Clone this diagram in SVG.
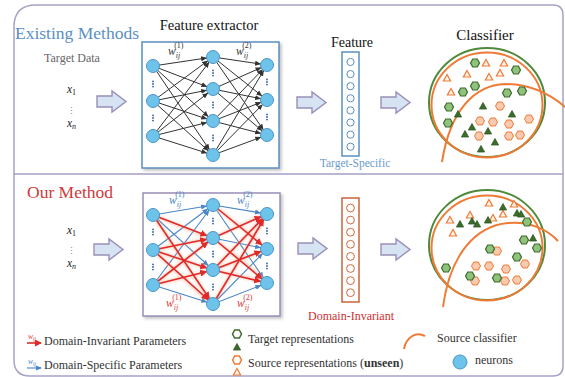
<svg xmlns="http://www.w3.org/2000/svg" width="565" height="377" viewBox="0 0 565 377">
<style>
text{font-family:"Liberation Serif","Times New Roman",serif;}
.frame{fill:#fff;stroke:#a8a2c6;stroke-width:1.5;}
.blk{fill:#d5e3f3;stroke:#9a8fb8;stroke-width:1.4;}
.neu{fill:#6ec3ea;stroke:#4a97c9;stroke-width:1;}
.ed{stroke:#333;stroke-width:1;marker-end:url(#mD);}
.eb{stroke:#4a86c5;stroke-width:1.1;marker-end:url(#mB);}
.er{stroke:#e02a2a;stroke-width:1.6;marker-end:url(#mR);}
.glow{stroke:#f49a72;stroke-width:4;opacity:.35;filter:url(#blur);}
.dot{fill:#2f5f9e;}
.hg{fill:#8fc27a;stroke:#3d6b2c;stroke-width:1.2;}
.ho{fill:#f9c9b0;stroke:#ef7a35;stroke-width:1;}
.tg{fill:#3d6b2c;stroke:#2f5a22;stroke-width:.8;}
.to{fill:#fff3ea;stroke:#ef7a35;stroke-width:1.2;}
.fc{fill:#fff;stroke-width:1;}
.lg{font-size:12px;fill:#333;}
.w{font-style:italic;font-size:11.5px;}
.sb{font-size:8px;}
.sp{font-size:8px;font-style:normal;}
</style>
<defs>
<filter id="blur" x="-20%" y="-20%" width="140%" height="140%"><feGaussianBlur stdDeviation="1.2"/></filter>
<filter id="sh" x="-10%" y="-10%" width="125%" height="125%"><feDropShadow dx="2" dy="2" stdDeviation="1.5" flood-color="#888" flood-opacity=".5"/></filter>
<marker id="mD" markerUnits="userSpaceOnUse" viewBox="0 0 12 6" markerWidth="12" markerHeight="6" refX="12" refY="3" orient="auto"><path d="M0,0.5 L6,3 L0,5.5 Z" fill="#333"/></marker>
<marker id="mB" markerUnits="userSpaceOnUse" viewBox="0 0 12 6" markerWidth="12" markerHeight="6" refX="12" refY="3" orient="auto"><path d="M0,0.5 L6,3 L0,5.5 Z" fill="#4a86c5"/></marker>
<marker id="mR" markerUnits="userSpaceOnUse" viewBox="0 0 13 7" markerWidth="13" markerHeight="7" refX="13" refY="3.5" orient="auto"><path d="M0,0 L7,3.5 L0,7 Z" fill="#e02a2a"/></marker>
<marker id="mRs" markerUnits="userSpaceOnUse" viewBox="0 0 7 7" markerWidth="7" markerHeight="7" refX="6" refY="3.5" orient="auto"><path d="M0,0 L7,3.5 L0,7 Z" fill="#e02a2a"/></marker>
<marker id="mBs" markerUnits="userSpaceOnUse" viewBox="0 0 6 6" markerWidth="6" markerHeight="6" refX="5" refY="3" orient="auto"><path d="M0,0.5 L6,3 L0,5.5 Z" fill="#4a86c5"/></marker>
<path id="blkA" d="M0,5 H15 V0 L29,10.5 L15,21 V16 H0 Z"/>
<path id="hx" d="M-4.5,0 L-2.3,-4 L2.3,-4 L4.5,0 L2.3,4 L-2.3,4 Z"/>
<path id="tr" d="M0,-3.5 L3.6,3 L-3.6,3 Z"/>
<g id="vd"><circle cx="0" cy="-2.6" r="0.9"/><circle cx="0" cy="0" r="0.9"/><circle cx="0" cy="2.6" r="0.9"/></g>
</defs>

<rect width="565" height="377" fill="#fff"/>
<path class="frame" d="M14,27 Q14,5 36,5 L553,5 Q563,5 563,15 L563,366 Q563,376 553,376 L30,376 Q14,376 14,360 Z"/>
<line x1="14" y1="174" x2="563" y2="174" stroke="#a59fc3" stroke-width="1.5"/>

<!-- Top section -->
<g id="existing-title"><text x="15" y="39" font-size="17.5" fill="#5a8fc4">Existing Methods</text></g>
<g id="target-data">
<text x="72" y="62" font-size="12" fill="#666" text-anchor="middle">Target Data</text>
<text x="67" y="93" font-size="11.5" font-style="italic" fill="#222">x<tspan font-size="8" dy="2" font-style="normal">1</tspan></text>
<text x="71" y="114" font-size="9" fill="#888" font-family="DejaVu Sans,sans-serif" text-anchor="middle">⋮</text>
<text x="67" y="127" font-size="11.5" font-style="italic" fill="#222">x<tspan font-size="8" dy="2">n</tspan></text>
</g>
<g id="feature-extractor-top">
<text x="209" y="30" font-size="14.5" fill="#111" text-anchor="middle">Feature extractor</text>
<rect x="142" y="42" width="137" height="126" fill="#fff" stroke="#5b8fc0" stroke-width="1.5" filter="url(#sh)"/>
</g>
<g id="connectors-top">
<line class="ed" x1="153" y1="66" x2="213" y2="57"/><line class="ed" x1="153" y1="66" x2="213" y2="89"/><line class="ed" x1="153" y1="66" x2="213" y2="121"/><line class="ed" x1="153" y1="66" x2="213" y2="155"/>
<line class="ed" x1="153" y1="101" x2="213" y2="57"/><line class="ed" x1="153" y1="101" x2="213" y2="89"/><line class="ed" x1="153" y1="101" x2="213" y2="121"/><line class="ed" x1="153" y1="101" x2="213" y2="155"/>
<line class="ed" x1="153" y1="136" x2="213" y2="57"/><line class="ed" x1="153" y1="136" x2="213" y2="89"/><line class="ed" x1="153" y1="136" x2="213" y2="121"/><line class="ed" x1="153" y1="136" x2="213" y2="155"/>
<line class="ed" x1="213" y1="57" x2="267" y2="65"/><line class="ed" x1="213" y1="57" x2="267" y2="100"/><line class="ed" x1="213" y1="57" x2="267" y2="135"/>
<line class="ed" x1="213" y1="89" x2="267" y2="65"/><line class="ed" x1="213" y1="89" x2="267" y2="100"/><line class="ed" x1="213" y1="89" x2="267" y2="135"/>
<line class="ed" x1="213" y1="121" x2="267" y2="65"/><line class="ed" x1="213" y1="121" x2="267" y2="100"/><line class="ed" x1="213" y1="121" x2="267" y2="135"/>
<line class="ed" x1="213" y1="155" x2="267" y2="65"/><line class="ed" x1="213" y1="155" x2="267" y2="100"/><line class="ed" x1="213" y1="155" x2="267" y2="135"/>
</g>
<g id="neurons-top">
<circle class="neu" cx="153" cy="66" r="6.5"/><circle class="neu" cx="153" cy="101" r="6.5"/><circle class="neu" cx="153" cy="136" r="6.5"/>
<circle class="neu" cx="213" cy="57" r="6.5"/><circle class="neu" cx="213" cy="89" r="6.5"/><circle class="neu" cx="213" cy="121" r="6.5"/><circle class="neu" cx="213" cy="155" r="6.5"/>
<circle class="neu" cx="267" cy="65" r="6.5"/><circle class="neu" cx="267" cy="100" r="6.5"/><circle class="neu" cx="267" cy="135" r="6.5"/>
<g class="dot">
<use href="#vd" x="153" y="84"/><use href="#vd" x="153" y="118"/>
<use href="#vd" x="213" y="73"/><use href="#vd" x="213" y="105"/><use href="#vd" x="213" y="138"/>
<use href="#vd" x="267" y="82"/><use href="#vd" x="267" y="117"/>
</g>
<text class="w" x="168" y="55" fill="#333">w<tspan class="sb" dy="2.5">ij</tspan><tspan class="sp" dx="-6" dy="-10">(1)</tspan></text>
<text class="w" x="236" y="55" fill="#333">w<tspan class="sb" dy="2.5">ij</tspan><tspan class="sp" dx="-6" dy="-10">(2)</tspan></text>
</g>
<g id="arrows-top">
<use href="#blkA" class="blk" x="97" y="91"/>
<use href="#blkA" class="blk" x="297" y="92"/>
<use href="#blkA" class="blk" x="381" y="92"/>
</g>
<g id="feature-top">
<text x="352" y="47" font-size="14" fill="#111" text-anchor="middle">Feature</text>
<rect x="342" y="52" width="17" height="104" fill="#fff" stroke="#5b8fc0" stroke-width="1.5"/>
<g class="fc" stroke="#5b8fc0">
<circle cx="350.5" cy="62" r="3.6"/><circle cx="350.5" cy="74.1" r="3.6"/><circle cx="350.5" cy="86.2" r="3.6"/><circle cx="350.5" cy="98.3" r="3.6"/><circle cx="350.5" cy="110.4" r="3.6"/><circle cx="350.5" cy="122.5" r="3.6"/><circle cx="350.5" cy="134.6" r="3.6"/><circle cx="350.5" cy="146.7" r="3.6"/>
</g>
<text x="355" y="167" font-size="11.5" fill="#6a9ccc" text-anchor="middle">Target-Specific</text>
</g>
<g id="classifier-top">
<text x="485" y="40" font-size="15" fill="#111" text-anchor="middle">Classifier</text>
<ellipse cx="487" cy="102.5" rx="58" ry="54.5" fill="none" stroke="#4f8a3a" stroke-width="2"/>
<ellipse cx="487" cy="105" rx="55.5" ry="52.5" fill="none" stroke="#ef7a35" stroke-width="2"/>
<path d="M442,162 C450,110 475,85 505,84 C530,84 550,94 565,107" fill="none" stroke="#ef7a35" stroke-width="2"/>
<g class="hg"><use href="#hx" x="475" y="63"/><use href="#hx" x="516" y="70"/><use href="#hx" x="475" y="86"/><use href="#hx" x="463" y="92"/><use href="#hx" x="507" y="93"/><use href="#hx" x="522" y="91"/><use href="#hx" x="449" y="107"/><use href="#hx" x="448" y="123"/></g>
<g class="to"><use href="#tr" x="486" y="63"/><use href="#tr" x="504" y="63"/><use href="#tr" x="467" y="74"/><use href="#tr" x="489" y="77"/><use href="#tr" x="500" y="73"/><use href="#tr" x="447" y="78"/><use href="#tr" x="451" y="92"/></g>
<g class="tg"><use href="#tr" x="458" y="114"/><use href="#tr" x="483" y="106"/><use href="#tr" x="512" y="114"/><use href="#tr" x="472" y="127"/><use href="#tr" x="465" y="134"/><use href="#tr" x="488" y="131"/><use href="#tr" x="495" y="142"/><use href="#tr" x="481" y="149"/></g>
<g class="ho"><use href="#hx" x="500" y="106"/><use href="#hx" x="480" y="121"/><use href="#hx" x="493" y="122"/><use href="#hx" x="509" y="124"/><use href="#hx" x="529" y="119"/><use href="#hx" x="479" y="136"/><use href="#hx" x="509" y="136"/><use href="#hx" x="520" y="135"/></g>
</g>

<!-- Bottom section -->
<g id="our-title"><text x="27" y="198" font-size="17.5" fill="#d03a3a">Our Method</text></g>
<g id="input-bottom">
<text x="67" y="234" font-size="11.5" font-style="italic" fill="#222">x<tspan font-size="8" dy="2" font-style="normal">1</tspan></text>
<text x="71" y="254" font-size="9" fill="#888" font-family="DejaVu Sans,sans-serif" text-anchor="middle">⋮</text>
<text x="67" y="267" font-size="11.5" font-style="italic" fill="#222">x<tspan font-size="8" dy="2">n</tspan></text>
</g>
<g id="feature-extractor-bottom">
<rect x="143" y="193" width="137" height="123" fill="#fff" stroke="#9a8fb8" stroke-width="1.5" filter="url(#sh)"/>
</g>
<g id="connectors-bottom">
<g fill="none">
<line class="eb" x1="153" y1="215" x2="213" y2="205"/><line class="eb" x1="153" y1="215" x2="213" y2="270"/><line class="eb" x1="153" y1="250" x2="213" y2="205"/><line class="eb" x1="153" y1="285" x2="213" y2="205"/><line class="eb" x1="153" y1="285" x2="213" y2="304"/>
<line class="eb" x1="213" y1="205" x2="267" y2="214"/><line class="eb" x1="213" y1="205" x2="267" y2="283"/><line class="eb" x1="213" y1="238" x2="267" y2="249"/><line class="eb" x1="213" y1="304" x2="267" y2="249"/><line class="eb" x1="213" y1="304" x2="267" y2="283"/>
</g>
<g class="glow">
<line x1="153" y1="215" x2="207" y2="237"/><line x1="153" y1="215" x2="209" y2="299"/><line x1="153" y1="250" x2="207" y2="239"/><line x1="153" y1="250" x2="207" y2="268"/><line x1="153" y1="250" x2="208" y2="301"/><line x1="153" y1="285" x2="208" y2="242"/><line x1="153" y1="285" x2="207" y2="272"/>
<line x1="213" y1="205" x2="263" y2="245"/><line x1="213" y1="238" x2="261" y2="216"/><line x1="213" y1="238" x2="263" y2="278"/><line x1="213" y1="270" x2="263" y2="218"/><line x1="213" y1="270" x2="261" y2="252"/><line x1="213" y1="270" x2="261" y2="281"/><line x1="213" y1="304" x2="264" y2="219"/>
</g>
<g>
<line class="er" x1="153" y1="215" x2="213" y2="238"/><line class="er" x1="153" y1="215" x2="213" y2="304"/><line class="er" x1="153" y1="250" x2="213" y2="238"/><line class="er" x1="153" y1="250" x2="213" y2="270"/><line class="er" x1="153" y1="250" x2="213" y2="304"/><line class="er" x1="153" y1="285" x2="213" y2="238"/><line class="er" x1="153" y1="285" x2="213" y2="270"/>
<line class="er" x1="213" y1="205" x2="267" y2="249"/><line class="er" x1="213" y1="238" x2="267" y2="214"/><line class="er" x1="213" y1="238" x2="267" y2="283"/><line class="er" x1="213" y1="270" x2="267" y2="214"/><line class="er" x1="213" y1="270" x2="267" y2="249"/><line class="er" x1="213" y1="270" x2="267" y2="283"/><line class="er" x1="213" y1="304" x2="267" y2="214"/>
</g>
</g>
<g id="neurons-bottom">
<circle class="neu" cx="153" cy="215" r="6.5"/><circle class="neu" cx="153" cy="250" r="6.5"/><circle class="neu" cx="153" cy="285" r="6.5"/>
<circle class="neu" cx="213" cy="205" r="6.5"/><circle class="neu" cx="213" cy="238" r="6.5"/><circle class="neu" cx="213" cy="270" r="6.5"/><circle class="neu" cx="213" cy="304" r="6.5"/>
<circle class="neu" cx="267" cy="214" r="6.5"/><circle class="neu" cx="267" cy="249" r="6.5"/><circle class="neu" cx="267" cy="283" r="6.5"/>
<g class="dot">
<use href="#vd" x="153" y="232"/><use href="#vd" x="153" y="267"/>
<use href="#vd" x="213" y="221"/><use href="#vd" x="213" y="254"/><use href="#vd" x="213" y="287"/>
<use href="#vd" x="267" y="231"/><use href="#vd" x="267" y="266"/>
</g>
<text class="w" x="169" y="204" fill="#4a86c5">w<tspan class="sb" dy="2.5">ij</tspan><tspan class="sp" dx="-6" dy="-10">(1)</tspan></text>
<text class="w" x="237" y="204" fill="#4a86c5">w<tspan class="sb" dy="2.5">ij</tspan><tspan class="sp" dx="-6" dy="-10">(2)</tspan></text>
<text class="w" x="166" y="307" fill="#e03a3a">w<tspan class="sb" dy="2.5">ij</tspan><tspan class="sp" dx="-6" dy="-10">(1)</tspan></text>
<text class="w" x="237" y="307" fill="#e03a3a">w<tspan class="sb" dy="2.5">ij</tspan><tspan class="sp" dx="-6" dy="-10">(2)</tspan></text>
</g>
<g id="arrows-bottom">
<use href="#blkA" class="blk" x="94" y="239"/>
<use href="#blkA" class="blk" x="298" y="238"/>
<use href="#blkA" class="blk" x="381" y="239"/>
</g>
<g id="feature-bottom">
<rect x="342" y="198" width="17" height="104" fill="#fff" stroke="#c8643c" stroke-width="1.5"/>
<g class="fc" stroke="#d0683c">
<circle cx="350.5" cy="208" r="3.9"/><circle cx="350.5" cy="220.1" r="3.9"/><circle cx="350.5" cy="232.2" r="3.9"/><circle cx="350.5" cy="244.3" r="3.9"/><circle cx="350.5" cy="256.4" r="3.9"/><circle cx="350.5" cy="268.5" r="3.9"/><circle cx="350.5" cy="280.6" r="3.9"/><circle cx="350.5" cy="292.7" r="3.9"/>
</g>
<text x="351" y="320" font-size="12" fill="#d03030" text-anchor="middle">Domain-Invariant</text>
</g>
<g id="classifier-bottom">
<ellipse cx="487" cy="245" rx="58" ry="55" fill="none" stroke="#4f8a3a" stroke-width="2"/>
<ellipse cx="487" cy="248" rx="55.5" ry="52.5" fill="none" stroke="#ef7a35" stroke-width="2"/>
<path d="M443,307 C450,255 475,226 508,223 C530,221 548,230 558,241" fill="none" stroke="#ef7a35" stroke-width="2"/>
<g class="to"><use href="#tr" x="489" y="203"/><use href="#tr" x="514" y="204"/><use href="#tr" x="470" y="215"/><use href="#tr" x="503" y="214"/><use href="#tr" x="493" y="218"/><use href="#tr" x="450" y="220"/><use href="#tr" x="453" y="233"/></g>
<g class="tg"><use href="#tr" x="503" y="207"/><use href="#tr" x="460" y="224"/><use href="#tr" x="472" y="221"/><use href="#tr" x="477" y="224"/><use href="#tr" x="488" y="220"/><use href="#tr" x="517" y="213"/><use href="#tr" x="521" y="214"/><use href="#tr" x="533" y="238"/></g>
<g class="ho"><use href="#hx" x="497" y="251"/><use href="#hx" x="525" y="264"/><use href="#hx" x="476" y="266"/><use href="#hx" x="489" y="266"/><use href="#hx" x="506" y="269"/><use href="#hx" x="475" y="281"/><use href="#hx" x="505" y="281"/><use href="#hx" x="517" y="280"/></g>
<g class="hg"><use href="#hx" x="527" y="222"/><use href="#hx" x="524" y="240"/><use href="#hx" x="537" y="248"/><use href="#hx" x="490" y="249"/><use href="#hx" x="517" y="257"/><use href="#hx" x="446" y="268"/><use href="#hx" x="470" y="276"/><use href="#hx" x="497" y="278"/></g>
</g>

<!-- Legend -->
<g id="legend-invariant">
<line x1="27" y1="343" x2="40" y2="343" class="glow"/>
<line x1="27" y1="343" x2="41" y2="343" stroke="#e02a2a" stroke-width="1.6" marker-end="url(#mRs)"/>
<text x="28" y="339" font-size="7.5" font-style="italic" fill="#e03a3a">w<tspan font-size="5.5" dy="1.5">ij</tspan></text>
<text class="lg" x="44" y="345">Domain-Invariant Parameters</text>
</g>
<g id="legend-specific">
<line x1="27" y1="368" x2="41" y2="368" stroke="#4a86c5" stroke-width="1.1" marker-end="url(#mBs)"/>
<text x="28" y="364" font-size="7.5" font-style="italic" fill="#4a86c5">w<tspan font-size="5.5" dy="1.5">ij</tspan></text>
<text class="lg" x="44" y="369">Domain-Specific Parameters</text>
</g>
<g id="legend-target">
<use href="#hx" x="237" y="334" fill="#fff" stroke="#3d6b2c" stroke-width="1.5"/>
<use href="#tr" x="237" y="347" class="tg"/>
<text class="lg" x="248" y="343">Target representations</text>
</g>
<g id="legend-source">
<use href="#hx" x="237" y="360" fill="#fff" stroke="#ef7a35" stroke-width="1.5"/>
<use href="#tr" x="237" y="372" class="to"/>
<text class="lg" x="248" y="367">Source representations (<tspan font-weight="bold">unseen</tspan>)</text>
</g>
<g id="legend-classifier">
<path d="M404,349 C406,338 415,331 425,336" fill="none" stroke="#ef7a35" stroke-width="2"/>
<text class="lg" x="437" y="342">Source classifier</text>
</g>
<g id="legend-neurons">
<circle class="neu" cx="460" cy="362" r="7"/>
<text class="lg" x="475" y="364">neurons</text>
</g>
</svg>
